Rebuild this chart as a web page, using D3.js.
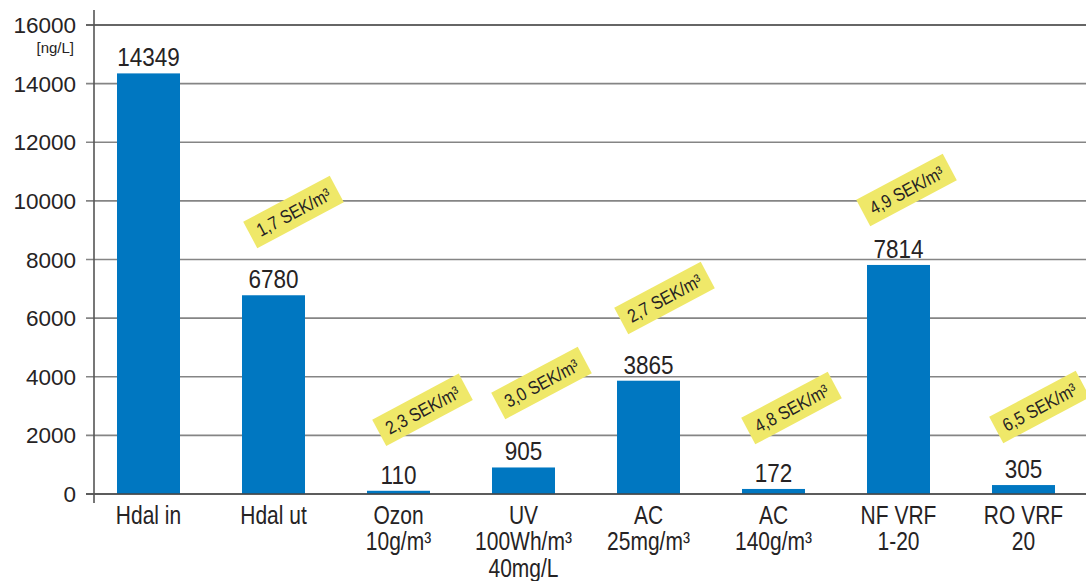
<!DOCTYPE html>
<html>
<head>
<meta charset="utf-8">
<script src="https://cdn.jsdelivr.net/npm/d3@7"></script>
<style>
  html, body { margin: 0; padding: 0; background: #fff; }
  svg { display: block; }
  text { font-family: "Liberation Sans", Arial, sans-serif; fill: #262324; }
</style>
</head>
<body>
<svg id="chart" width="1086" height="581"></svg>
<script>
// Treatment steps (each entry = the lines of its axis label)
const categories = [
  ["Hdal in"],
  ["Hdal ut"],
  ["Ozon", "10g/m³"],
  ["UV", "100Wh/m³", "40mg/L"],
  ["AC", "25mg/m³"],
  ["AC", "140g/m³"],
  ["NF VRF", "1-20"],
  ["RO VRF", "20"]
];
// Concentration in ng/L after each step
const values = [14349, 6780, 110, 905, 3865, 172, 7814, 305];
// Treatment cost per step (index into categories)
const costIndex = [1, 2, 3, 4, 5, 6, 7];
const costLabels = ["1,7 SEK/m³", "2,3 SEK/m³", "3,0 SEK/m³", "2,7 SEK/m³", "4,8 SEK/m³", "4,9 SEK/m³", "6,5 SEK/m³"];
// Y axis ticks
const yTicks = [0, 2000, 4000, 6000, 8000, 10000, 12000, 14000, 16000];
const unitLabel = "[ng/L]";

// ---- layout ----
const W = 1086;
const axisX = 94;
const y0 = 494, yTop = 25;
// where each cost tag sits: level on the value axis and horizontal shift from the band centre
const tagLevel = [9620, 2870, 3790, 6690, 2930, 10370, 2970];
const tagShift = [22, 26, 20, 18, 20, 10, 18];
// the labels use a condensed look: horizontal squeeze factors
const squeezeCat = 0.84, squeezeVal = 0.9, squeezeTag = 0.86;

const svg = d3.select("#chart");

const x = d3.scaleBand()
  .domain(d3.range(categories.length))
  .range([86, 1086])
  .paddingInner(0.496)
  .paddingOuter(0.248);
const cx = i => x(i) + x.bandwidth() / 2;

const y = d3.scaleLinear().domain([0, 16000]).range([y0, yTop]);

// gridlines + tick marks
svg.append("g").selectAll("line")
  .data(yTicks)
  .join("line")
  .attr("x1", axisX - 8)
  .attr("x2", W)
  .attr("y1", d => y(d))
  .attr("y2", d => y(d))
  .attr("stroke", d => d === 16000 ? "#333" : "#858585")
  .attr("stroke-width", 1.6);

// y tick labels
svg.append("g").selectAll("text")
  .data(yTicks)
  .join("text")
  .attr("x", 76)
  .attr("y", d => y(d))
  .attr("dy", "0.36em")
  .attr("text-anchor", "end")
  .attr("font-size", 22.5)
  .text(d => d);

svg.append("text")
  .attr("x", 74)
  .attr("y", 53)
  .attr("text-anchor", "end")
  .attr("font-size", 15)
  .attr("fill", "#444")
  .text(unitLabel);

// bars
svg.append("g").selectAll("rect")
  .data(values)
  .join("rect")
  .attr("x", (d, i) => x(i))
  .attr("width", x.bandwidth())
  .attr("y", d => y(d))
  .attr("height", d => y0 - y(d))
  .attr("fill", "#0077c1");

// baseline and y axis line
svg.append("line")
  .attr("x1", axisX - 8).attr("x2", W)
  .attr("y1", y0).attr("y2", y0)
  .attr("stroke", "#444").attr("stroke-width", 1.6);
svg.append("line")
  .attr("x1", axisX).attr("x2", axisX)
  .attr("y1", 10).attr("y2", 503)
  .attr("stroke", "#555").attr("stroke-width", 1.6);

// value labels
svg.append("g").selectAll("text")
  .data(values)
  .join("text")
  .attr("transform", (d, i) => `translate(${cx(i)},${y(d) - 7}) scale(${squeezeVal},1)`)
  .attr("text-anchor", "middle")
  .attr("font-size", 25)
  .text(d => d);

// category labels
const cat = svg.append("g").selectAll("g")
  .data(categories)
  .join("g")
  .attr("transform", (d, i) => `translate(${cx(i)},0) scale(${squeezeCat},1)`);
cat.selectAll("text")
  .data(lines => lines)
  .join("text")
  .attr("x", 0)
  .attr("y", (d, j) => 524 + j * 26.5)
  .attr("text-anchor", "middle")
  .attr("font-size", 25)
  .text(d => d);

// cost tags
const tags = svg.append("g").selectAll("g")
  .data(costLabels)
  .join("g")
  .attr("transform", (d, k) =>
    `translate(${cx(costIndex[k]) + tagShift[k] - 2},${y(tagLevel[k])}) rotate(-28)`);
tags.append("rect")
  .attr("x", -49).attr("y", -15)
  .attr("width", 98).attr("height", 30)
  .attr("fill", "#efe869");
tags.append("text")
  .attr("transform", `scale(${squeezeTag},1)`)
  .attr("text-anchor", "middle")
  .attr("dy", "0.36em")
  .attr("font-size", 18.5)
  .text(d => d);
</script>
</body>
</html>
